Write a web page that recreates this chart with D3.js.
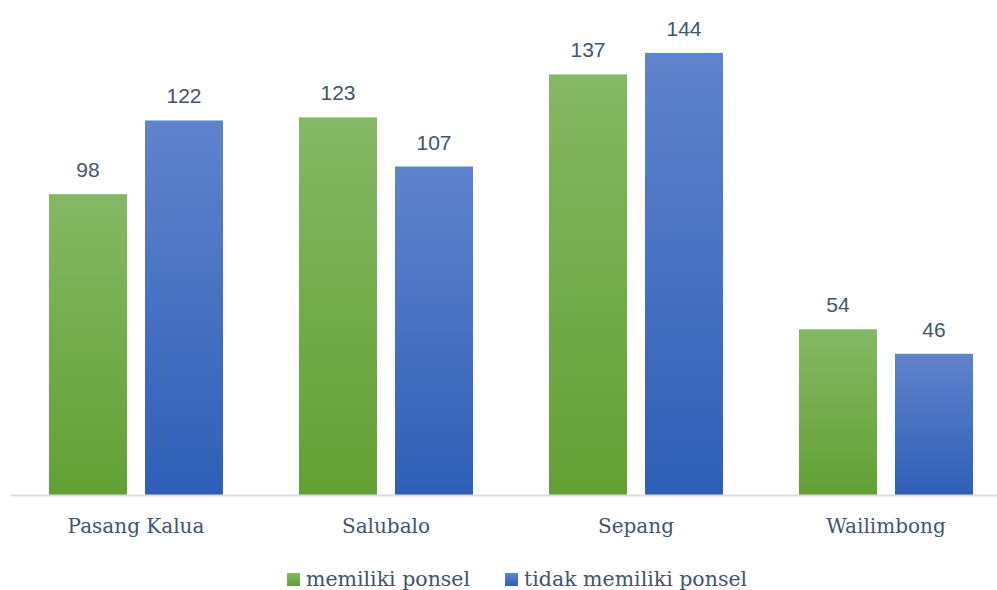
<!DOCTYPE html>
<html>
<head>
<meta charset="utf-8">
<script src="https://cdn.jsdelivr.net/npm/d3@7"></script>
<style>
  body { margin: 0; background: #fff; }
  svg { display: block; }
</style>
</head>
<body>
<div id="chart"></div>
<script>
// data
const categories = ["Pasang Kalua", "Salubalo", "Sepang", "Wailimbong"];
const seriesNames = ["memiliki ponsel", "tidak memiliki ponsel"];
const memiliki = [98, 123, 137, 54];
const tidakMemiliki = [122, 107, 144, 46];

const W = 997, H = 590;
const svg = d3.select("#chart").append("svg")
    .attr("width", W)
    .attr("height", H);

// gradients for the two series (top lighter, bottom darker)
const defs = svg.append("defs");
const grads = [
    {id: "g_green", top: "#85b864", bottom: "#62a033"},
    {id: "g_blue", top: "#6083cc", bottom: "#2e5fb7"}
];
grads.forEach(g => {
    const lg = defs.append("linearGradient")
        .attr("id", g.id)
        .attr("x1", 0).attr("y1", 0).attr("x2", 0).attr("y2", 1);
    lg.append("stop").attr("offset", "0%").attr("stop-color", g.top);
    lg.append("stop").attr("offset", "100%").attr("stop-color", g.bottom);
});

const x0 = d3.scaleBand()
    .domain(categories)
    .range([11, 1011])
    .paddingInner(0.304)
    .paddingOuter(0.152);

const x1 = d3.scaleBand()
    .domain(seriesNames)
    .range([0, x0.bandwidth()])
    .paddingInner(0.1875);

const y = d3.scaleLinear()
    .domain([0, 150])
    .range([495, 34.5]);

const rows = categories.map((c, i) => ({
    cat: c,
    vals: [
        {s: seriesNames[0], v: memiliki[i], fill: "url(#g_green)"},
        {s: seriesNames[1], v: tidakMemiliki[i], fill: "url(#g_blue)"}
    ]
}));

const groups = svg.selectAll(".grp")
    .data(rows)
    .enter().append("g")
    .attr("class", "grp")
    .attr("transform", d => `translate(${x0(d.cat)},0)`);

groups.selectAll("rect")
    .data(d => d.vals)
    .enter().append("rect")
    .attr("x", d => x1(d.s))
    .attr("y", d => y(d.v))
    .attr("width", x1.bandwidth())
    .attr("height", d => y(0) - y(d.v))
    .attr("fill", d => d.fill);

// value labels
groups.selectAll(".lbl")
    .data(d => d.vals)
    .enter().append("text")
    .attr("class", "lbl")
    .attr("x", d => x1(d.s) + x1.bandwidth() / 2)
    .attr("y", d => y(d.v) - 17)
    .attr("text-anchor", "middle")
    .attr("font-family", "'Liberation Sans', Arial, sans-serif")
    .attr("font-size", 21)
    .attr("fill", "#44546a")
    .text(d => d.v);

// x axis
const xAxis = d3.axisBottom(x0).tickSize(0).tickPadding(24);
const axisG = svg.append("g")
    .attr("transform", `translate(0,${y(0)})`)
    .call(xAxis);
axisG.select(".domain")
    .attr("d", `M11,0.5H${W}`)
    .attr("stroke", "#d9dde5")
    .attr("stroke-width", 2);
axisG.selectAll("text")
    .attr("font-family", "'DejaVu Serif', serif")
    .attr("font-size", 20)
    .attr("fill", "#44546a");

// legend
const legendItems = [
    {name: seriesNames[0], fill: "url(#g_green)", x: 287},
    {name: seriesNames[1], fill: "url(#g_blue)", x: 505}
];
const lg = svg.selectAll(".leg")
    .data(legendItems)
    .enter().append("g")
    .attr("class", "leg")
    .attr("transform", d => `translate(${d.x},573)`);
lg.append("rect")
    .attr("width", 13).attr("height", 13)
    .attr("fill", d => d.fill);
lg.append("text")
    .attr("x", 19)
    .attr("y", 13)
    .attr("font-family", "'DejaVu Serif', serif")
    .attr("font-size", 20.5)
    .attr("fill", "#44546a")
    .text(d => d.name);
</script>
</body>
</html>
